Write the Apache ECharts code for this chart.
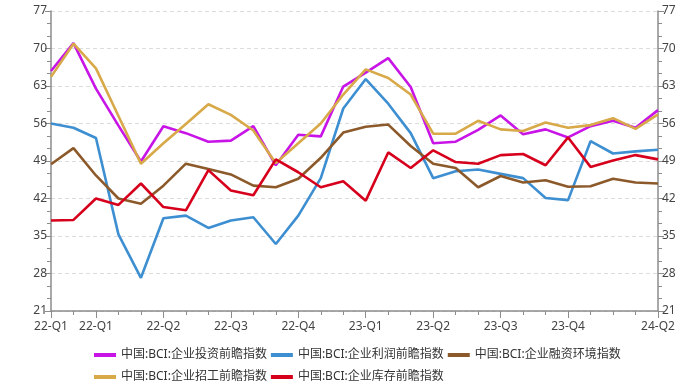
<!DOCTYPE html>
<html><head><meta charset="utf-8">
<script src="https://cdn.jsdelivr.net/npm/echarts@6/dist/echarts.min.js"></script>
<style>html,body{margin:0;padding:0;background:#fff}#c{width:693px;height:390px}</style>
</head><body><div id="c"></div>
<script>
var months = ['2022-01','2022-02','2022-03','2022-04','2022-05','2022-06','2022-07','2022-08','2022-09','2022-10','2022-11','2022-12',
  '2023-01','2023-02','2023-03','2023-04','2023-05','2023-06','2023-07','2023-08','2023-09','2023-10','2023-11','2023-12',
  '2024-01','2024-02','2024-03','2024-04'];
var labeledMonths = ['2022-01','2022-03','2022-06','2022-09','2022-12','2023-03','2023-06','2023-09','2023-12','2024-04'];
var yTicks = [21,28,35,42,49,56,63,70,77];

var invest    = [65.8,71.0,62.5,55.6,48.9,55.5,54.2,52.6,52.8,55.5,48.2,53.9,53.6,62.9,65.5,68.2,62.8,52.3,52.6,54.8,57.5,54.0,54.9,53.4,55.5,56.5,55.2,58.5];
var profit    = [56.0,55.2,53.3,35.3,27.2,38.3,38.8,36.5,37.9,38.5,33.5,38.8,45.8,58.8,64.3,59.7,54.2,45.8,47.1,47.4,46.6,45.8,42.1,41.7,52.7,50.4,50.8,51.1];
var financing = [48.4,51.4,46.3,42.0,41.0,44.4,48.5,47.5,46.5,44.4,44.1,45.7,49.6,54.3,55.4,55.8,51.8,48.5,47.7,44.1,46.2,45.0,45.4,44.2,44.3,45.7,45.0,44.8];
var recruit   = [64.7,70.9,66.3,57.4,48.5,52.3,55.9,59.6,57.6,54.7,48.6,52.3,56.0,61.4,66.1,64.5,61.4,54.1,54.1,56.5,54.9,54.6,56.2,55.2,55.7,57.0,55.0,57.7];
var inventory = [37.9,38.0,42.0,40.8,44.8,40.4,39.8,47.3,43.5,42.6,49.3,46.9,44.1,45.2,41.6,50.6,47.7,51.0,48.8,48.5,50.1,50.3,48.2,53.4,47.9,49.1,50.1,49.3];

var names = ['中国:BCI:企业投资前瞻指数','中国:BCI:企业利润前瞻指数','中国:BCI:企业融资环境指数','中国:BCI:企业招工前瞻指数','中国:BCI:企业库存前瞻指数'];
var colors = ['#c814e6','#3d8fd1','#8c5a2a','#d8a948','#d6001c'];
var values = [invest, profit, financing, recruit, inventory];

function qLabel(m){ var y=m.slice(2,4); var mo=parseInt(m.slice(5,7),10); return y+'-Q'+Math.ceil(mo/3); }
function isLabeled(i){ return labeledMonths.indexOf(months[i])>=0; }

var font = "'Noto Sans','Noto Sans CJK SC',sans-serif";
var axisColor = '#8c8c8c';
function yAxis(pos){
  return {
    type:'value', position:pos, min:yTicks[0], max:yTicks[yTicks.length-1], interval:7,
    axisLine:{show:true, lineStyle:{color:axisColor, width:1.5}},
    axisTick:{show:true, length:6, lineStyle:{color:axisColor}},
    minorTick:{show:true, splitNumber:3, length:4, lineStyle:{color:axisColor}},
    axisLabel:{color:'#444', fontSize:12, fontFamily:font, margin:4},
    splitLine:{show:pos==='left', lineStyle:{color:'#dcdcdc', type:[4,3]}}
  };
}

var legendText = {fontSize:12, color:'#333', fontFamily:font};
var chart = echarts.init(document.getElementById('c'), null, {renderer:'canvas'});
chart.setOption({
  animation:false,
  color: colors,
  grid:{left:51, right:35, top:11, bottom:79, containLabel:false},
  legend:[
    {data:names.slice(0,3), left:94, top:349, itemWidth:22, itemHeight:4, itemGap:4, icon:'rect', padding:0, textStyle:legendText},
    {data:names.slice(3), left:94, top:371, itemWidth:22, itemHeight:4, itemGap:4, icon:'rect', padding:0, textStyle:legendText}
  ],
  xAxis:[
    {type:'category', data:months, boundaryGap:false,
     axisLine:{show:true, lineStyle:{color:axisColor, width:1.5}},
     axisTick:{show:true, length:7, interval:function(i){return isLabeled(i);}, lineStyle:{color:axisColor}},
     axisLabel:{interval:function(i){return isLabeled(i);}, formatter:function(v){return qLabel(v);},
       color:'#444', fontSize:12, fontFamily:font, margin:10, showMinLabel:true, showMaxLabel:true},
     splitLine:{show:false}},
    {type:'category', data:months, boundaryGap:false, position:'bottom',
     axisLine:{show:false}, axisLabel:{show:false},
     axisTick:{show:true, length:4, interval:0, lineStyle:{color:axisColor}}, splitLine:{show:false}}
  ],
  yAxis:[yAxis('left'), yAxis('right')],
  series: [3,4,2,1,0].map(function(k){
    return {name:names[k], type:'line', data:values[k], xAxisIndex:0, yAxisIndex:0,
      showSymbol:false, symbol:'none', lineStyle:{width:2.6, color:colors[k]}, itemStyle:{color:colors[k]}, z:2+k};
  })
});
</script></body></html>
